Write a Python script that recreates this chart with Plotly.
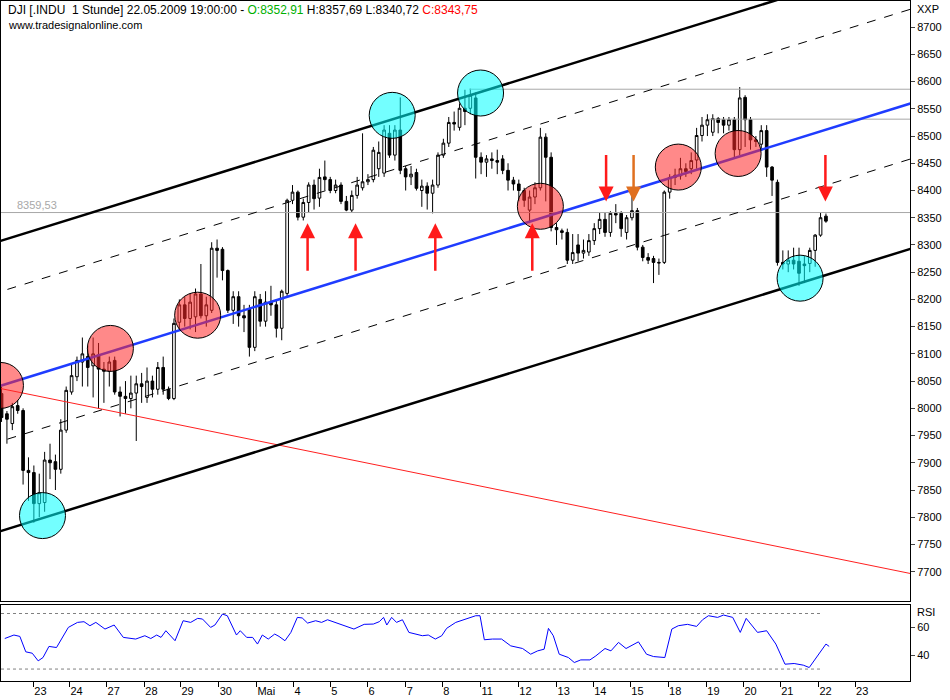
import plotly.graph_objects as go
from plotly.subplots import make_subplots

# Stundenkerzen DJI (Index = Kerze Nr.)
opens = [8027, 7990, 7972, 8005, 7996, 7886, 7882, 7825, 7827, 7905, 7902, 7888, 7960, 8030, 8058, 8085, 8095, 8078, 8098, 8072,
         8068, 8088, 8030, 8022, 8018, 8028, 8045, 8020, 8050, 8035, 8075, 8035, 8018, 8158, 8190, 8165, 8168, 8210, 8170, 8180,
         8294, 8292, 8253, 8180, 8205, 8170, 8183, 8112, 8200, 8160, 8195, 8190, 8147, 8211, 8382, 8397, 8351, 8378, 8410, 8386,
         8425, 8420, 8400, 8410, 8380, 8364, 8391, 8405, 8416, 8420, 8440, 8432, 8505, 8465, 8511, 8440, 8425, 8433, 8400, 8408,
         8395, 8410, 8465, 8487, 8525, 8516, 8551, 8551, 8570, 8461, 8452, 8458, 8455, 8458, 8437, 8419, 8412, 8400, 8364, 8388,
         8405, 8498, 8461, 8332, 8326, 8323, 8272, 8300, 8285, 8287, 8308, 8330, 8347, 8323, 8358, 8358, 8323, 8350, 8363, 8296,
         8277, 8275, 8268, 8268, 8397, 8424, 8427, 8440, 8440, 8456, 8501, 8520, 8507, 8532, 8530, 8520, 8530, 8475, 8571, 8530,
         8493, 8485, 8510, 8443, 8415, 8268, 8265, 8272, 8270, 8265, 8266, 8290, 8318, 8352.91]
highs = [8040, 7995, 8010, 8015, 8000, 7910, 7895, 7880, 7920, 7935, 7915, 7980, 8040, 8080, 8095, 8130, 8115, 8130, 8120, 8085,
         8095, 8095, 8040, 8050, 8060, 8060, 8065, 8075, 8060, 8085, 8095, 8040, 8165, 8200, 8205, 8210, 8220, 8265, 8205, 8305,
         8310, 8296, 8255, 8215, 8215, 8190, 8190, 8215, 8210, 8215, 8225, 8200, 8218, 8385, 8410, 8400, 8385, 8415, 8420, 8440,
         8455, 8425, 8420, 8415, 8390, 8400, 8425, 8505, 8430, 8480, 8490, 8520, 8520, 8520, 8571, 8445, 8445, 8440, 8420, 8415,
         8420, 8470, 8495, 8535, 8545, 8560, 8585, 8587, 8580, 8470, 8465, 8470, 8475, 8465, 8450, 8425, 8420, 8405, 8400, 8415,
         8515, 8505, 8470, 8340, 8330, 8330, 8320, 8320, 8310, 8320, 8340, 8360, 8360, 8362, 8375, 8362, 8355, 8395, 8368, 8300,
         8285, 8280, 8275, 8400, 8430, 8440, 8460, 8450, 8470, 8515, 8535, 8540, 8540, 8535, 8535, 8535, 8535, 8590, 8575, 8535,
         8500, 8520, 8520, 8445, 8420, 8290, 8290, 8295, 8295, 8280, 8295, 8320, 8360, 8357.69]
lows = [7975, 7935, 7960, 7990, 7860, 7830, 7790, 7800, 7810, 7870, 7850, 7880, 7955, 8025, 8050, 8040, 8040, 8020, 8000, 8010,
        8040, 8025, 7985, 7990, 8000, 7940, 8010, 8010, 8020, 8025, 8025, 8015, 8015, 8145, 8150, 8145, 8140, 8165, 8150, 8175,
        8240, 8235, 8175, 8155, 8150, 8140, 8095, 8105, 8150, 8150, 8170, 8130, 8125, 8205, 8375, 8345, 8345, 8360, 8365, 8370,
        8400, 8395, 8395, 8375, 8362, 8360, 8385, 8400, 8410, 8415, 8425, 8425, 8460, 8455, 8430, 8400, 8410, 8400, 8370, 8365,
        8358, 8405, 8460, 8480, 8510, 8510, 8520, 8540, 8422, 8430, 8425, 8440, 8430, 8430, 8400, 8400, 8380, 8370, 8340, 8375,
        8400, 8380, 8325, 8300, 8310, 8265, 8265, 8270, 8275, 8280, 8300, 8320, 8315, 8315, 8340, 8315, 8310, 8345, 8290, 8270,
        8265, 8230, 8245, 8265, 8385, 8410, 8420, 8425, 8430, 8440, 8490, 8500, 8500, 8505, 8505, 8510, 8460, 8465, 8480, 8475,
        8480, 8475, 8425, 8390, 8262, 8255, 8250, 8255, 8225, 8230, 8250, 8260, 8315, 8340.72]
closes = [7983, 7980, 8003, 7996, 7886, 7882, 7825, 7845, 7905, 7900, 7888, 7960, 8033, 8060, 8088, 8100, 8075, 8100, 8072, 8068,
          8085, 8030, 8022, 8018, 8028, 8045, 8040, 8050, 8035, 8075, 8035, 8018, 8156, 8190, 8165, 8195, 8210, 8170, 8190, 8294,
          8290, 8253, 8180, 8205, 8170, 8166, 8112, 8205, 8160, 8195, 8190, 8147, 8215, 8382, 8397, 8351, 8378, 8410, 8385, 8424,
          8420, 8400, 8410, 8380, 8364, 8391, 8410, 8416, 8420, 8474, 8470, 8511, 8465, 8511, 8437, 8425, 8430, 8404, 8408, 8395,
          8410, 8465, 8487, 8525, 8522, 8551, 8545, 8575, 8461, 8452, 8458, 8455, 8452, 8437, 8419, 8412, 8400, 8382, 8388, 8405,
          8498, 8461, 8332, 8328, 8323, 8272, 8286, 8285, 8290, 8308, 8330, 8347, 8323, 8358, 8355, 8330, 8350, 8363, 8296, 8277,
          8272, 8268, 8267, 8397, 8424, 8428, 8440, 8435, 8455, 8501, 8520, 8530, 8532, 8525, 8520, 8530, 8475, 8570, 8530, 8493,
          8490, 8510, 8443, 8419, 8268, 8265, 8272, 8265, 8248, 8262, 8290, 8318, 8350, 8343.75]
bars = list(range(len(closes)))

# RSI (Kerzenindex, Wert)
rsi_x = [0.6, 2.3, 3.4, 4.5, 5.7, 6.8, 7.7, 8.8, 10.2, 12.4, 14.1, 15.3, 16.4, 17.5, 19.2, 20.9, 22.6, 24.9, 26.6, 27.7,
         28.8, 29.6, 30.5, 32.2, 33.7, 35.1, 36.4, 37.3, 38.8, 39.6, 41.0, 41.9, 43.6, 44.3, 45.5, 46.6, 47.5, 48.4, 49.5, 50.7,
         51.5, 52.6, 53.7, 54.9, 55.8, 56.8, 58.3, 59.4, 60.5, 62.2, 63.7, 65.4, 67.3, 69.0, 70.1, 70.9, 71.5, 72.4, 73.3, 74.4,
         75.6, 76.9, 78.1, 79.2, 80.5, 81.7, 82.6, 84.3, 86.0, 88.0, 88.8, 89.6, 91.1, 92.8, 94.5, 96.7, 98.2, 99.5, 100.7, 101.5,
         102.4, 103.5, 105.2, 106.3, 107.5, 109.2, 110.3, 112.0, 113.1, 114.5, 115.9, 118.2, 119.7, 121.0, 123.1, 124.4, 125.6, 127.3, 129.0, 130.1,
         131.2, 132.9, 134.0, 135.7, 137.1, 138.2, 140.3, 142.0, 143.7, 145.4, 147.1, 148.8, 149.9, 151.4, 153.0, 153.6]
rsi_y = [52.0, 54.5, 53.5, 42.4, 41.4, 35.9, 38.3, 46.3, 45.5, 60.0, 63.6, 64.1, 61.2, 63.6, 58.8, 61.7, 52.8, 51.6, 54.0, 52.0,
         54.5, 52.8, 57.6, 50.4, 64.8, 63.6, 66.5, 66.0, 60.0, 61.7, 69.6, 68.4, 54.5, 57.6, 52.8, 52.8, 48.0, 54.5, 51.6, 55.2,
         53.5, 50.4, 56.4, 67.2, 66.8, 63.1, 64.8, 63.6, 65.5, 63.1, 61.2, 58.8, 62.2, 62.4, 64.1, 67.2, 61.7, 67.2, 63.6, 65.5,
         56.4, 55.4, 54.0, 54.5, 51.6, 54.0, 59.3, 63.6, 66.0, 68.4, 68.4, 51.1, 51.6, 51.6, 46.7, 44.8, 40.7, 43.1, 44.3, 59.3,
         54.0, 40.7, 38.3, 34.7, 36.6, 36.6, 39.5, 44.8, 43.1, 49.2, 44.8, 49.6, 40.7, 39.0, 38.3, 58.8, 61.2, 62.2, 60.7, 65.5,
         68.4, 67.2, 68.9, 67.2, 56.4, 66.5, 56.4, 57.6, 48.0, 33.5, 34.0, 32.8, 31.1, 39.5, 48.0, 46.3]

day_ticks = [5.9, 12.6, 19.5, 26.5, 33.2, 40.3, 47.3, 54.2, 61.0, 67.9, 75.0, 81.8, 88.9, 95.9, 103.0, 109.8, 116.7,
             123.7, 130.8, 137.7, 144.5, 151.6, 158.4]
day_labels = ['23', '24', '27', '28', '29', '30', 'Mai', '4', '5', '6', '7', '8', '11', '12', '13', '14', '15',
              '18', '19', '20', '21', '22', '23']

# Trendkanal: Startwert bei Kerze 0, Steigung je Kerze
slope = 3.07
chan_top, chan_up, chan_mid, chan_low, chan_bot = 8308, 8215, 8042, 7940, 7775
red_start, red_end = 8036, 7698

cyan_x = [7.6, 72.5, 88.9, 148.2]
cyan_y = [7803, 8538, 8579, 8239]
red_x = [-0.2, 20.2, 36.4, 100.0, 125.6, 136.7]
red_y = [8042, 8110, 8171, 8371, 8443, 8468]

up_arrows = [56.8, 65.7, 80.5, 98.5]
down_arrows = [112.2, 117.3, 152.9]
down_colors = ['#ff1a1a', '#e07020', '#ff1a1a']

last_ref = 8359.53
hi1, hi2 = 8586, 8531

X0, X1 = -0.1, 168.6
FONT = 'Liberation Sans'

fig = make_subplots(rows=2, cols=1, shared_xaxes=True, vertical_spacing=0.006,
                    row_heights=[0.887, 0.113])

def chan(v0, s, dash, color, width):
    fig.add_trace(go.Scatter(x=[X0 - 2, X1 + 2], y=[v0 + s * (X0 - 2), v0 + s * (X1 + 2)], mode='lines',
                             line=dict(color=color, width=width, dash=dash), hoverinfo='skip'), row=1, col=1)

# horizontale Linien
fig.add_trace(go.Scatter(x=[X0, X1 + 2], y=[last_ref, last_ref], mode='lines',
                         line=dict(color='#a8a8a8', width=1)), row=1, col=1)
fig.add_trace(go.Scatter(x=[86.8, X1 + 2], y=[hi1, hi1], mode='lines',
                         line=dict(color='#a8a8a8', width=1)), row=1, col=1)
fig.add_trace(go.Scatter(x=[131.2, X1 + 2], y=[hi2, hi2], mode='lines',
                         line=dict(color='#a8a8a8', width=1)), row=1, col=1)

chan(red_start, (red_end - red_start) / 168, None, '#ff2020', 1)
chan(chan_top, slope, None, 'black', 2.5)
chan(chan_bot, slope, None, 'black', 2.5)
chan(chan_up, slope, 'dash', 'black', 1)
chan(chan_low, slope, 'dash', 'black', 1)
chan(chan_mid, slope, None, '#1f3cff', 2.5)

fig.add_trace(go.Candlestick(x=bars, open=opens, high=highs, low=lows, close=closes,
                             increasing=dict(line=dict(color='black', width=1), fillcolor='white'),
                             decreasing=dict(line=dict(color='black', width=1), fillcolor='black'),
                             whiskerwidth=0), row=1, col=1)

fig.add_trace(go.Scatter(x=cyan_x, y=cyan_y, mode='markers',
                         marker=dict(size=46, color='rgba(0,255,255,0.55)', line=dict(color='black', width=1))),
              row=1, col=1)
fig.add_trace(go.Scatter(x=red_x, y=red_y, mode='markers',
                         marker=dict(size=46, color='rgba(255,40,40,0.55)', line=dict(color='black', width=1))),
              row=1, col=1)

# RSI
for lvl in (70, 30):
    fig.add_trace(go.Scatter(x=[X0, 152], y=[lvl, lvl], mode='lines',
                             line=dict(color='#808080', width=1, dash='dot')), row=2, col=1)
fig.add_trace(go.Scatter(x=rsi_x, y=rsi_y, mode='lines', line=dict(color='#0000ff', width=1)), row=2, col=1)

anns = []
for xa in up_arrows:
    anns.append(dict(x=xa, y=8340, ax=xa, ay=8250, xref='x', yref='y', axref='x', ayref='y',
                     showarrow=True, arrowhead=2, arrowsize=1.2, arrowwidth=2.5, arrowcolor='#ff1a1a', text=''))
for xa, col in zip(down_arrows, down_colors):
    anns.append(dict(x=xa, y=8380, ax=xa, ay=8468, xref='x', yref='y', axref='x', ayref='y',
                     showarrow=True, arrowhead=2, arrowsize=1.2, arrowwidth=2.5, arrowcolor=col, text=''))

anns += [
    dict(x=0.005, y=1.0, xref='paper', yref='paper', xanchor='left', yanchor='top', showarrow=False,
         text="DJI [.INDU  1 Stunde] 22.05.2009 19:00:00 - <span style='color:#00b000'>O:8352,91</span> "
              "H:8357,69 L:8340,72 <span style='color:#ff0000'>C:8343,75</span>",
         font=dict(size=12, color='black', family=FONT)),
    dict(x=0.005, y=0.977, xref='paper', yref='paper', xanchor='left', yanchor='top', showarrow=False,
         text='www.tradesignalonline.com', font=dict(size=11, color='black', family=FONT)),
    dict(x=2.5, y=last_ref, xref='x', yref='y', xanchor='left', yanchor='bottom', showarrow=False,
         text='8359,53', font=dict(size=11, color='#a8a8a8', family=FONT)),
    dict(x=1.005, y=1.0, xref='paper', yref='paper', xanchor='left', yanchor='top', showarrow=False,
         text='XXP', font=dict(size=11, color='black', family=FONT)),
    dict(x=1.005, y=0.113, xref='paper', yref='paper', xanchor='left', yanchor='top', showarrow=False,
         text='RSI', font=dict(size=11, color='black', family=FONT)),
]

fig.update_layout(
    width=950, height=700, showlegend=False,
    margin=dict(l=1, r=40, t=1, b=19),
    plot_bgcolor='white', paper_bgcolor='white',
    font=dict(family=FONT, size=11, color='black'),
    annotations=anns,
    xaxis_rangeslider_visible=False,
)
axis_common = dict(showline=True, linecolor='black', linewidth=1, mirror=True, showgrid=False, zeroline=False)
fig.update_xaxes(range=[X0, X1], **axis_common)
fig.update_xaxes(showticklabels=False, ticks='', row=1, col=1)
fig.update_xaxes(tickvals=day_ticks, ticktext=day_labels, ticks='outside', ticklen=5, tickcolor='black',
                 ticklabelposition='outside right', row=2, col=1)
fig.update_yaxes(side='right', **axis_common)
fig.update_yaxes(range=[7647, 8748], tickvals=list(range(7700, 8701, 50)), ticks='outside', ticklen=4,
                 row=1, col=1)
fig.update_yaxes(range=[21.4, 76.4], tickvals=[40, 60], ticks='outside', ticklen=4, row=2, col=1)

fig.write_html('out.html', config={'displayModeBar': False},
               post_script="document.body.style.margin='0';")
